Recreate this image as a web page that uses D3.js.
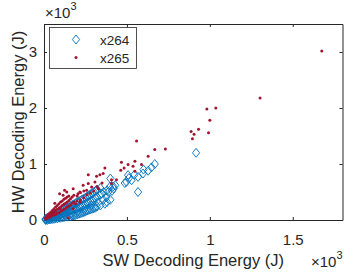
<!DOCTYPE html>
<meta charset="utf-8">
<head>
  <style>
    body { margin: 0; background: #fff; }
    svg { display: block; font-family: "Liberation Sans", Arial, sans-serif; }
    .tick line { stroke: #262626; }
    .domain { stroke: #262626; }
    .tick text { fill: #262626; font-size: 15px; }
  </style>
</head>
<body>
<div id="chart"></div>
<script src="https://d3js.org/d3.v7.min.js"></script>
<script>

// values in units of 10^3 J
var xTicks = [0, 0.5, 1, 1.5];
var xTickLabels = ["0", "0.5", "1", "1.5"];
var yTicks = [0, 1, 2, 3];
var yTickLabels = ["0", "1", "2", "3"];
var seriesNames = ["x264", "x265"];

// x264 (SW energy, HW energy)
var x264 = [
  [0.917,1.20],[0.668,1.00],[0.648,0.94],[0.628,0.88],[0.600,0.90],[0.597,0.83],
  [0.567,0.77],[0.545,0.81],[0.528,0.71],[0.512,0.75],[0.507,0.80],[0.497,0.68],
  [0.487,0.66],[0.567,0.50],[0.430,0.62],[0.417,0.60],[0.397,0.59],[0.387,0.50],
  [0.377,0.41],[0.367,0.29],[0.347,0.47],[0.357,0.36],[0.400,0.74],[0.410,0.52],
  [0.01,0.00],[0.01,0.01],[0.01,0.02],[0.02,0.00],[0.02,0.02],[0.02,0.04],
  [0.03,0.01],[0.03,0.03],[0.03,0.05],[0.04,0.01],[0.04,0.04],[0.04,0.06],
  [0.05,0.02],[0.05,0.05],[0.05,0.08],[0.06,0.02],[0.06,0.06],[0.06,0.09],
  [0.07,0.03],[0.07,0.07],[0.07,0.11],[0.08,0.03],[0.08,0.08],[0.08,0.12],
  [0.09,0.04],[0.09,0.09],[0.09,0.14],[0.10,0.04],[0.10,0.10],[0.10,0.15],
  [0.11,0.05],[0.11,0.12],[0.11,0.17],[0.12,0.05],[0.12,0.13],[0.12,0.19],
  [0.13,0.06],[0.13,0.14],[0.13,0.20],[0.14,0.06],[0.14,0.15],[0.14,0.22],
  [0.15,0.07],[0.15,0.16],[0.15,0.23],[0.16,0.07],[0.16,0.17],[0.16,0.25],
  [0.17,0.08],[0.17,0.19],[0.17,0.27],[0.18,0.08],[0.18,0.20],[0.18,0.28],
  [0.19,0.09],[0.19,0.21],[0.19,0.30],[0.20,0.10],[0.20,0.22],[0.20,0.32],
  [0.21,0.11],[0.21,0.24],[0.21,0.33],[0.22,0.12],[0.22,0.25],[0.22,0.35],
  [0.23,0.13],[0.23,0.26],[0.23,0.37],[0.24,0.14],[0.24,0.28],[0.24,0.38],
  [0.25,0.15],[0.25,0.29],[0.25,0.40],[0.26,0.17],[0.26,0.31],[0.26,0.42],
  [0.27,0.18],[0.27,0.32],[0.27,0.44],[0.28,0.19],[0.28,0.34],[0.28,0.46],
  [0.29,0.20],[0.29,0.35],[0.29,0.48],[0.30,0.21],[0.30,0.37],[0.30,0.50],
  [0.31,0.22],[0.31,0.39],[0.31,0.52],[0.32,0.24],[0.32,0.41],[0.32,0.54],
  [0.34,0.26],[0.34,0.45],[0.34,0.57],[0.36,0.50],[0.38,0.32],[0.38,0.53],
  [0.40,0.36],[0.42,0.56],[0.045,0.03],[0.085,0.06],[0.125,0.10],[0.165,0.12],
  [0.205,0.16],[0.245,0.20],[0.285,0.26],[0.325,0.31]
];

// x265 (SW energy, HW energy)
var x265 = [
  [1.675,3.02],[1.303,2.18],[1.036,2.00],[0.982,1.98],[1.000,1.78],[0.932,1.62],
  [0.887,1.58],[0.905,1.53],[0.895,1.45],[0.992,1.56],
  [0.558,1.41],[0.732,1.27],[0.668,1.26],[0.628,1.14],[0.588,0.99],[0.548,1.05],
  [0.537,0.96],[0.507,0.99],[0.467,1.03],[0.483,0.93],[0.463,0.89],[0.548,0.87],
  [0.367,0.93],[0.357,0.83],[0.337,0.81],[0.317,0.78],[0.267,0.81],[0.307,0.68],
  [0.407,0.72],[0.437,0.72],[0.407,0.65],[0.287,0.59],[0.327,0.56],[0.267,0.65],
  [0.257,0.53],[0.236,0.62],[0.176,0.56],[0.137,0.50],[0.216,0.50],[0.094,0.47],
  [0.124,0.53],[0.205,0.47],[0.146,0.04],[0.096,0.20],[0.176,0.20],[0.217,0.32],
  [0.01,0.02],[0.01,0.04],[0.02,0.03],[0.02,0.06],[0.02,0.08],
  [0.03,0.05],[0.03,0.08],[0.03,0.11],[0.04,0.06],[0.04,0.10],[0.04,0.14],
  [0.05,0.08],[0.05,0.12],[0.05,0.17],[0.06,0.09],[0.06,0.14],[0.06,0.20],
  [0.07,0.10],[0.07,0.17],[0.07,0.23],[0.08,0.12],[0.08,0.19],[0.08,0.26],
  [0.09,0.13],[0.09,0.21],[0.09,0.29],[0.10,0.15],[0.10,0.23],[0.10,0.32],
  [0.11,0.17],[0.11,0.26],[0.11,0.34],[0.12,0.19],[0.12,0.28],[0.12,0.37],
  [0.13,0.21],[0.13,0.30],[0.13,0.39],[0.14,0.23],[0.14,0.32],[0.14,0.41],
  [0.15,0.25],[0.15,0.35],[0.15,0.43],[0.16,0.27],[0.16,0.38],[0.17,0.30],
  [0.17,0.41],[0.18,0.32],[0.18,0.44],[0.19,0.29],[0.20,0.34],[0.20,0.43],
  [0.22,0.36],[0.22,0.49],[0.24,0.40],[0.24,0.52],[0.26,0.45],[0.28,0.48],
  [0.30,0.52],[0.32,0.60],[0.33,0.56],[0.35,0.66],[0.115,0.44],[0.065,0.30]
];

var width = 354, height = 275;
var padL = 44, padR = 342.5, padT = 24, padB = 220;

var svg = d3.select("#chart").append("svg")
  .attr("width", width)
  .attr("height", height);

var x = d3.scaleLinear().domain([0, 1.8]).range([padL, padR]);
var y = d3.scaleLinear().domain([0, 3.5]).range([padB, padT]);

// axes with inside ticks, box on
svg.append("g")
  .attr("transform", "translate(0," + padB + ")")
  .call(d3.axisBottom(x).tickValues(xTicks).tickSizeInner(-3).tickSizeOuter(0)
    .tickPadding(14).tickFormat(function(d, i) { return xTickLabels[i]; }));
svg.append("g")
  .attr("transform", "translate(0," + padT + ")")
  .call(d3.axisTop(x).tickValues(xTicks).tickSizeInner(-3).tickSizeOuter(0).tickFormat(""));
svg.append("g")
  .attr("transform", "translate(" + padL + ",0)")
  .call(d3.axisLeft(y).tickValues(yTicks).tickSizeInner(-3).tickSizeOuter(0)
    .tickPadding(7).tickFormat(function(d, i) { return yTickLabels[i]; }));
svg.append("g")
  .attr("transform", "translate(" + padR + ",0)")
  .call(d3.axisRight(y).tickValues(yTicks).tickSizeInner(-3).tickSizeOuter(0).tickFormat(""));

var blue = "#0072BD", red = "#A2142F";
var diamond = "M0,-4.5L3.6,0L0,4.5L-3.6,0Z";

var plot = svg.append("g");
plot.selectAll(".d264")
  .data(x264)
  .enter().append("path")
    .attr("class", "d264")
    .attr("d", diamond)
    .attr("transform", function(d) { return "translate(" + x(d[0]) + "," + y(d[1]) + ")"; })
    .attr("fill", "none")
    .attr("stroke", blue)
    .attr("stroke-width", 0.9);

plot.selectAll(".d265")
  .data(x265)
  .enter().append("circle")
    .attr("class", "d265")
    .attr("cx", function(d) { return x(d[0]); })
    .attr("cy", function(d) { return y(d[1]); })
    .attr("r", 1.5)
    .attr("fill", red);

// axis labels
svg.append("text")
  .attr("x", (padL + padR) / 2).attr("y", 266)
  .attr("text-anchor", "middle")
  .style("font-size", "16.5px").attr("fill", "#262626")
  .text("SW Decoding Energy (J)");

svg.append("text")
  .attr("transform", "translate(24," + (padT + padB) / 2 + ")rotate(-90)")
  .attr("text-anchor", "middle")
  .style("font-size", "16.5px").attr("fill", "#262626")
  .text("HW Decoding Energy (J)");

// exponent labels
function expLabel(xp, yp) {
  var t = svg.append("text").attr("x", xp).attr("y", yp)
    .style("font-size", "15px").attr("fill", "#262626");
  t.append("tspan").text("\u00d710");
  t.append("tspan").attr("dy", -8).style("font-size", "11px").text("3");
}
expLabel(45, 18);
expLabel(311, 266.5);

// legend
var lg = svg.append("g");
lg.append("rect")
  .attr("x", 49.5).attr("y", 27.5).attr("width", 87).attr("height", 41)
  .attr("fill", "#fff").attr("stroke", "#262626").attr("stroke-width", 0.8);
lg.append("path")
  .attr("d", diamond)
  .attr("transform", "translate(76,39.5)")
  .attr("fill", "none").attr("stroke", blue).attr("stroke-width", 0.9);
lg.append("circle")
  .attr("cx", 76).attr("cy", 57.5).attr("r", 1.5).attr("fill", red);
lg.selectAll(".lt")
  .data(seriesNames)
  .enter().append("text")
    .attr("x", 100)
    .attr("y", function(d, i) { return 45 + i * 18; })
    .style("font-size", "13.5px").attr("fill", "#262626")
    .text(function(d) { return d; });

</script>
</body>
